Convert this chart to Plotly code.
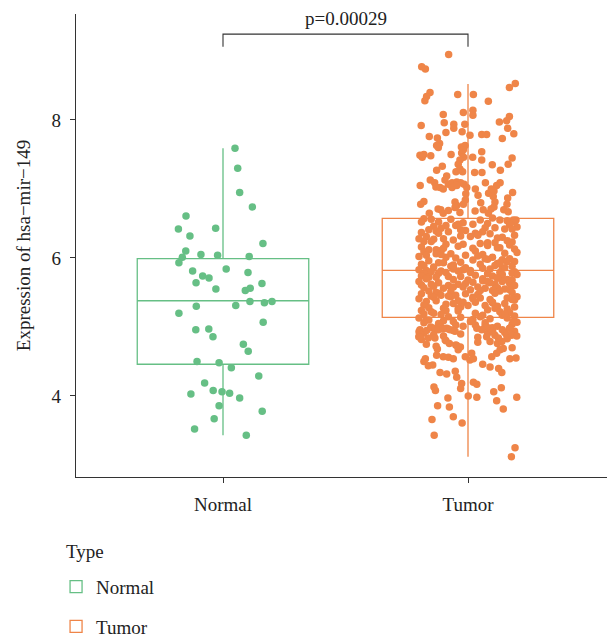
import plotly.graph_objects as go

categories = ["Normal", "Tumor"]
colors = ["#66BF85", "#EF8548"]

normal_expr = [7.59, 7.30, 6.95, 6.74, 6.61, 6.42, 6.43, 6.32, 6.21, 6.10,
               6.05, 6.04, 6.01, 6.02, 5.93, 5.81, 5.84, 5.79, 5.74, 5.71,
               5.64, 5.63, 5.55, 5.53, 5.56, 5.30, 5.37, 5.31, 5.35, 5.37,
               5.20, 5.07, 4.96, 4.97, 4.86, 4.75, 4.65, 4.50, 4.48, 4.41,
               4.29, 4.19, 4.03, 4.08, 4.06, 4.04, 3.97, 3.86, 3.78, 3.67,
               3.52, 3.43]
normal_jitter = [0.049, 0.060, 0.068, 0.120, -0.151, -0.182, -0.030, -0.135, 0.163, -0.152,
                 -0.090, -0.022, -0.166, 0.107, -0.180, -0.124, 0.013, 0.102, -0.083, -0.057,
                 -0.110, 0.159, -0.029, 0.091, 0.111, -0.109, 0.110, 0.052, 0.169, 0.200,
                 -0.180, 0.164, -0.111, -0.058, -0.041, 0.083, 0.103, -0.106, -0.016, 0.034,
                 0.146, -0.075, -0.131, -0.040, -0.004, 0.027, 0.068, -0.016, 0.160, -0.036,
                 -0.116, 0.095]

tumor_expr = [
    # upper tail
    8.95, 8.77, 8.74, 8.53, 8.47, 8.40, 8.34, 8.28, 8.37, 8.37,
    8.27, 8.11, 8.14, 8.07, 8.08, 8.05, 7.97, 7.99, 7.88, 7.92,
    7.96, 7.94, 7.88, 7.94, 7.83, 7.82, 7.78, 7.76, 7.74, 7.66,
    7.63, 7.60, 7.79, 7.79, 7.73, 7.80, 7.61, 7.63, 7.57, 7.52,
    7.54, 7.49, 7.50, 7.48, 7.46, 7.50, 7.46, 7.42, 7.46, 7.42,
    7.36, 7.45, 7.36, 7.33, 7.27, 7.35, 7.27, 7.25, 7.25, 7.29,
    7.24, 7.24, 7.19, 7.13, 7.13, 7.09, 7.03, 7.02, 7.00, 7.07,
    7.09, 7.10, 7.09, 7.07, 7.02, 7.02, 7.05, 7.09, 7.09, 7.05,
    7.00, 6.94, 6.97, 7.05, 6.95, 7.00, 6.91, 6.93, 6.84, 6.78,
    6.82, 6.78, 6.81, 6.76, 6.80, 6.89, 6.81, 6.74, 6.87, 6.78,
    6.70, 6.67, 6.71, 6.70, 6.65, 6.69, 6.73, 6.66, 6.68, 6.70,
    6.65, 6.71, 6.65, 6.55, 6.55,
    # box interior
    6.57, 6.55, 6.56, 6.54, 6.52, 6.58, 6.53, 6.51, 6.56, 6.50,
    6.55, 6.52, 6.49, 6.47, 6.48, 6.46, 6.44, 6.49, 6.45, 6.43,
    6.47, 6.42, 6.41, 6.44, 6.40, 6.38, 6.39, 6.42, 6.37, 6.36,
    6.35, 6.38, 6.33, 6.31, 6.34, 6.32, 6.30, 6.36, 6.29, 6.28,
    6.27, 6.31, 6.25, 6.26, 6.24, 6.22, 6.28, 6.23, 6.21, 6.20,
    6.19, 6.24, 6.17, 6.18, 6.15, 6.16, 6.14, 6.20, 6.12, 6.13,
    6.11, 6.15, 6.09, 6.10, 6.08, 6.06, 6.07, 6.12, 6.05, 6.04,
    6.03, 6.06, 6.01, 6.02, 6.00, 5.99, 6.04, 5.98, 5.97, 6.01,
    5.96, 5.99, 5.94, 5.95, 5.93, 5.97, 5.92, 5.91, 5.95, 5.90,
    5.89, 5.93, 5.88, 5.87, 5.91, 5.86, 5.89, 5.85, 5.88, 5.84,
    5.83, 5.86, 5.82, 5.85, 5.81, 5.80, 5.84, 5.82, 5.79, 5.83,
    5.78, 5.81, 5.77, 5.80, 5.76, 5.79, 5.75, 5.77, 5.74, 5.78,
    5.73, 5.76, 5.72, 5.71, 5.74, 5.70, 5.73, 5.69, 5.72, 5.68,
    5.67, 5.70, 5.66, 5.69, 5.65, 5.64, 5.68, 5.63, 5.66, 5.62,
    5.61, 5.64, 5.60, 5.63, 5.59, 5.58, 5.62, 5.57, 5.60, 5.56,
    5.55, 5.58, 5.54, 5.57, 5.53, 5.52, 5.56, 5.51, 5.54, 5.50,
    5.49, 5.52, 5.48, 5.47, 5.50, 5.46, 5.49, 5.45, 5.48, 5.44,
    5.43, 5.46, 5.42, 5.41, 5.44, 5.40, 5.43, 5.39, 5.42, 5.38,
    5.37, 5.40, 5.36, 5.35, 5.38, 5.34, 5.33, 5.36, 5.32, 5.31,
    5.30, 5.34, 5.29, 5.28, 5.31, 5.27, 5.26, 5.29, 5.25, 5.24,
    5.23, 5.27, 5.22, 5.21, 5.24, 5.20, 5.19, 5.22, 5.18, 5.17,
    5.16, 5.20, 5.15, 5.14, 5.17, 5.13, 5.12, 5.15, 5.11, 5.10,
    5.09, 5.13, 5.08, 5.07, 5.10, 5.06, 5.05, 5.08, 5.04, 5.03,
    5.02, 5.06, 5.01, 5.00, 5.03, 4.99, 4.98, 5.01, 4.97, 4.96,
    4.95, 4.99, 4.93, 4.92, 4.90, 4.94, 4.89, 4.91, 4.87, 4.85,
    4.83, 4.80, 4.78, 4.82, 4.76, 4.74, 4.79, 4.72, 4.70, 4.75,
    # extra dense core
    6.41, 6.22, 6.05, 5.97, 5.88, 5.79, 5.71, 5.62, 5.53, 5.45,
    5.36, 5.27, 6.33, 6.14, 5.93, 5.84, 5.66, 5.58, 5.41, 5.19,
    # lower tail
    4.96, 4.86, 4.91, 4.95, 5.00, 4.98, 4.96, 4.97, 4.98, 4.96,
    4.94, 4.84, 4.84, 4.85, 4.81, 4.76, 4.68, 4.59, 4.67, 4.71,
    4.73, 4.57, 4.56, 4.54, 4.54, 4.50, 4.44, 4.45, 4.34, 4.32,
    4.36, 4.27, 4.57, 4.52, 4.54, 4.62, 4.18, 4.11, 4.00, 4.20,
    4.17, 3.98, 4.46, 4.42, 4.57, 4.62, 4.67, 4.69, 4.79, 4.84,
    4.88, 4.93, 4.98, 5.00, 4.86, 4.96, 4.98, 4.40, 4.34, 4.54,
    4.55, 4.88, 4.88, 4.87, 4.98, 5.08, 4.13, 4.08, 3.97, 3.84,
    3.86, 3.70, 3.61, 3.66, 3.43, 4.06, 4.12, 3.93, 3.81, 3.98,
    3.25, 3.12,
]
tumor_jitter = [
    -0.079, -0.189, -0.174, 0.193, 0.169, -0.155, -0.169, -0.176, -0.042, 0.022,
    0.083, -0.019, 0.020, 0.020, -0.101, 0.169, 0.128, 0.158, 0.162, -0.191,
    -0.097, -0.058, -0.058, -0.013, -0.024, -0.090, 0.008, -0.158, -0.125, -0.116,
    -0.128, -0.121, 0.056, 0.076, 0.140, 0.187, -0.027, -0.012, -0.019, -0.026,
    0.056, -0.196, -0.180, -0.152, -0.187, -0.069, 0.019, 0.056, -0.018, -0.033,
    -0.040, 0.180, 0.164, -0.105, -0.128, 0.099, 0.132, -0.049, -0.022, -0.033,
    0.027, 0.057, -0.087, -0.094, -0.154, -0.136, -0.131, -0.114, -0.101, -0.080,
    -0.065, -0.046, -0.030, -0.016, -0.005, -0.065, -0.046, 0.071, 0.131, 0.117,
    0.095, 0.084, 0.106, -0.195, 0.182, 0.030, 0.041, -0.009, -0.011, -0.019,
    -0.180, -0.193, -0.053, -0.046, 0.052, 0.103, 0.110, 0.106, 0.162, 0.159,
    0.146, 0.164, -0.122, -0.111, -0.101, -0.080, -0.053, -0.033, 0.029, 0.062,
    0.083, 0.094, -0.158, 0.185, 0.196,
    -0.18, 0.05, -0.07, 0.16, -0.12, 0.10, 0.19, -0.02, -0.15, 0.08,
    0.13, -0.19, 0.02, -0.09, 0.17, -0.14, 0.07, -0.04, 0.20, -0.11,
    -0.05, 0.18, -0.16, 0.11, -0.01, 0.06, -0.13, 0.15, -0.19, 0.03,
    0.09, -0.08, 0.19, -0.17, 0.04, -0.03, 0.14, -0.12, 0.12, -0.20,
    -0.14, 0.01, 0.16, -0.06, -0.18, 0.11, -0.10, 0.18, 0.05, -0.02,
    0.17, -0.15, -0.04, 0.08, 0.13, -0.19, 0.02, -0.09, -0.13, 0.19,
    -0.11, 0.12, -0.18, 0.03, 0.20, -0.07, 0.15, -0.16, 0.06, -0.01,
    0.04, -0.13, 0.10, -0.20, -0.05, 0.17, -0.17, 0.08, 0.14, -0.09,
    -0.16, 0.07, -0.03, 0.19, -0.12, 0.02, 0.12, -0.19, 0.16, -0.06,
    0.11, -0.10, 0.18, -0.14, 0.05, -0.01, -0.18, 0.14, -0.07, 0.09,
    -0.02, 0.15, -0.17, 0.06, -0.11, 0.19, -0.06, 0.01, 0.13, -0.20,
    0.18, -0.04, 0.08, -0.15, 0.14, -0.09, 0.03, -0.18, 0.10, -0.12,
    -0.08, 0.20, -0.13, 0.12, -0.19, 0.06, -0.03, 0.16, -0.16, 0.00,
    0.06, -0.17, 0.14, -0.06, 0.02, -0.12, 0.18, -0.01, -0.20, 0.11,
    -0.19, 0.09, -0.08, 0.17, -0.14, 0.04, -0.04, 0.12, 0.19, -0.10,
    0.15, -0.02, 0.01, -0.18, 0.10, -0.16, 0.07, -0.07, 0.17, -0.13,
    -0.12, 0.13, -0.19, 0.04, 0.18, -0.05, 0.11, -0.15, -0.01, 0.20,
    0.02, -0.11, 0.16, -0.20, -0.07, 0.09, -0.14, 0.19, 0.05, -0.04,
    -0.17, 0.18, -0.02, 0.10, -0.13, 0.15, -0.09, 0.03, -0.18, 0.07,
    0.12, -0.06, 0.19, -0.16, 0.00, -0.10, 0.16, -0.03, 0.08, -0.19,
    -0.04, 0.11, -0.15, 0.17, -0.09, 0.03, -0.18, 0.13, -0.11, 0.06,
    0.19, -0.14, 0.05, -0.03, 0.14, -0.20, 0.09, -0.08, 0.02, -0.16,
    -0.10, 0.16, -0.06, 0.20, -0.17, 0.07, -0.12, 0.01, 0.18, -0.05,
    0.07, -0.18, 0.12, -0.11, 0.03, -0.15, 0.17, -0.02, -0.08, 0.14,
    -0.06, 0.10, -0.20, 0.15, -0.03, 0.19, -0.14, 0.08, -0.10, 0.04,
    0.16, -0.09, 0.04, -0.19, 0.12, -0.05, 0.09, -0.13, 0.18, -0.17,
    -0.03, 0.08, -0.11, 0.14, -0.06, 0.01, 0.12, -0.15, 0.05, -0.08,
    0.10, -0.04, 0.04, -0.10, 0.13, -0.01, 0.08, -0.06, 0.02, 0.15,
    -0.196, -0.201, -0.182, -0.169, -0.152, -0.135, -0.121, -0.103, -0.087, -0.073,
    -0.053, -0.162, -0.135, -0.196, -0.093, -0.076, -0.125, -0.128, -0.040, -0.031,
    -0.046, -0.101, -0.080, -0.060, -0.174, -0.180, -0.162, -0.144, -0.114, -0.087,
    -0.052, -0.046, -0.011, 0.008, 0.022, 0.015, -0.026, -0.030, 0.001, 0.022,
    0.036, 0.036, 0.060, 0.090, 0.097, 0.117, 0.131, 0.144, 0.138, 0.124,
    0.110, 0.101, 0.090, 0.076, 0.076, 0.056, 0.036, 0.125, 0.138, 0.171,
    0.196, 0.158, 0.178, 0.199, 0.171, 0.185, -0.139, -0.133, -0.082, -0.076,
    -0.124, -0.060, -0.024, -0.147, -0.138, 0.105, 0.136, 0.117, 0.144, 0.199,
    0.192, 0.177,
]

box_q1 = [4.46, 5.14]
box_median = [5.38, 5.82]
box_q3 = [5.99, 6.575]
box_lower = [3.43, 3.12]
box_upper = [7.59, 8.52]

p_label = "p=0.00029"
bracket_top = 9.245
bracket_leg = 0.185

FONT = "Liberation Serif"
AX = "#333333"

fig = go.Figure()
positions = [1, 2]
for i, cat in enumerate(categories):
    fig.add_trace(go.Box(
        x=[positions[i]], q1=[box_q1[i]], median=[box_median[i]], q3=[box_q3[i]],
        lowerfence=[box_lower[i]], upperfence=[box_upper[i]],
        name=cat, width=0.7, whiskerwidth=0, boxpoints=False,
        line=dict(color=colors[i], width=1.3), fillcolor="rgba(255,255,255,0)",
        legendgroup=cat, showlegend=True,
    ))

point_sets = [(normal_expr, normal_jitter), (tumor_expr, tumor_jitter)]
for i, (vals, jit) in enumerate(point_sets):
    fig.add_trace(go.Scatter(
        x=[positions[i] + d for d in jit], y=vals, mode="markers",
        marker=dict(color=colors[i], size=7.5, line=dict(width=0)),
        legendgroup=categories[i], showlegend=False, hoverinfo="skip",
    ))

fig.add_trace(go.Scatter(
    x=[positions[0], positions[0], positions[1], positions[1]],
    y=[bracket_top - bracket_leg, bracket_top, bracket_top, bracket_top - bracket_leg],
    mode="lines", line=dict(color=AX, width=1.1), showlegend=False, hoverinfo="skip",
))
fig.add_annotation(x=(positions[0] + positions[1]) / 2, y=bracket_top, text=p_label,
                   showarrow=False, yanchor="bottom", yshift=3,
                   font=dict(family=FONT, size=19, color="#222222"))
fig.add_annotation(x=-0.022, xref="paper", y=-0.160, yref="paper", text="Type",
                   showarrow=False, xanchor="left", yanchor="middle",
                   font=dict(family=FONT, size=19, color="#222222"))

# The page body adds an 8 px offset, so the figure is sized to fill the rest.
fig.update_layout(
    width=607, height=630,
    margin=dict(l=68, r=0, t=6, b=161, autoexpand=False),
    paper_bgcolor="white", plot_bgcolor="white",
    font=dict(family=FONT, size=18, color="#222222"),
    xaxis=dict(range=[0.4, 2.6], tickvals=positions, ticktext=categories,
               ticks="outside", ticklen=5, tickcolor=AX, tickwidth=1,
               showline=True, linecolor=AX, linewidth=1.2, automargin=False,
               showgrid=False, zeroline=False, ticklabelstandoff=5,
               tickfont=dict(size=19)),
    yaxis=dict(range=[2.826, 9.536], tickvals=[4, 6, 8],
               ticks="outside", ticklen=5, tickcolor=AX, tickwidth=1,
               showline=True, linecolor=AX, linewidth=1.2, automargin=False,
               showgrid=False, zeroline=False, ticklabelstandoff=5,
               tickfont=dict(size=19),
               title=dict(text="Expression of hsa\u2212mir\u2212149", standoff=15,
                          font=dict(size=19))),
    legend=dict(orientation="v",
                x=-0.037, xanchor="left", y=-0.196, yanchor="top",
                font=dict(size=19), tracegroupgap=12, traceorder="grouped",
                bgcolor="rgba(0,0,0,0)"),
)

fig.write_html("out.html")
